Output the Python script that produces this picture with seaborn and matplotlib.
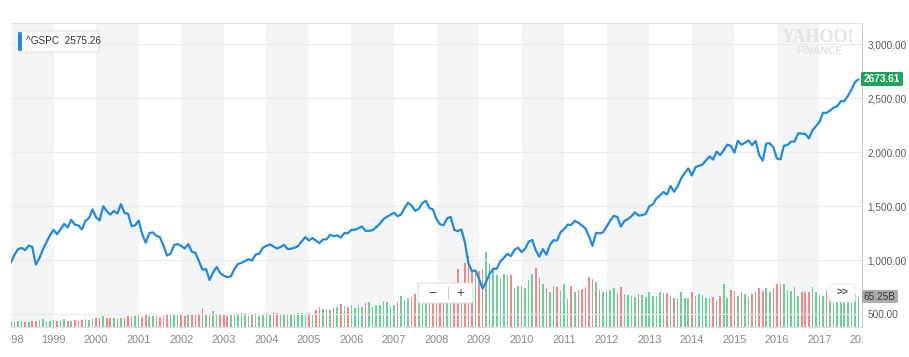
import numpy as np
import pandas as pd
import matplotlib
matplotlib.use("Agg")
import matplotlib.pyplot as plt
from matplotlib.patches import FancyBboxPatch
from matplotlib.lines import Line2D
from matplotlib.transforms import IdentityTransform
import seaborn as sns


sns.set_theme(style="white")
plt.rcParams['font.family'] = ['Liberation Sans', 'DejaVu Sans']

W, H = 909, 357

years = list(range(1998, 2018))
year_ticks = list(range(1998, 2019))
price_ticks = [500, 1000, 1500, 2000, 2500, 3000]

# monthly close, Jan..Dec per row
close_values = [
    980.28, 1049.34, 1101.75, 1111.75, 1090.82, 1133.84, 1120.67, 957.28, 1017.01, 1098.67, 1163.63, 1229.23,
    1279.64, 1238.33, 1286.37, 1335.18, 1301.84, 1372.71, 1328.72, 1320.41, 1282.71, 1362.93, 1388.91, 1469.25,
    1394.46, 1366.42, 1498.58, 1452.43, 1420.60, 1454.60, 1430.83, 1517.68, 1436.51, 1429.40, 1314.95, 1320.28,
    1366.01, 1239.94, 1160.33, 1249.46, 1255.82, 1224.38, 1211.23, 1133.58, 1040.94, 1059.78, 1139.45, 1148.08,
    1130.20, 1106.73, 1147.39, 1076.92, 1067.14, 989.82, 911.62, 916.07, 815.28, 885.76, 936.31, 879.82,
    855.70, 841.15, 848.18, 916.92, 963.59, 974.50, 990.31, 1008.01, 995.97, 1050.71, 1058.20, 1111.92,
    1131.13, 1144.94, 1126.21, 1107.30, 1120.68, 1140.84, 1101.72, 1104.24, 1114.58, 1130.20, 1173.82, 1211.92,
    1181.27, 1203.60, 1180.59, 1156.85, 1191.50, 1191.33, 1234.18, 1220.33, 1228.81, 1207.01, 1249.48, 1248.29,
    1280.08, 1280.66, 1294.83, 1310.61, 1270.09, 1270.20, 1276.66, 1303.82, 1335.85, 1377.94, 1400.63, 1418.30,
    1438.24, 1406.82, 1420.86, 1482.37, 1530.62, 1503.35, 1455.27, 1473.99, 1526.75, 1549.38, 1481.14, 1468.36,
    1378.55, 1330.63, 1322.70, 1385.59, 1400.38, 1280.00, 1267.38, 1282.83, 1166.36, 968.75, 896.24, 903.25,
    825.88, 735.09, 797.87, 872.81, 919.14, 919.32, 987.48, 1020.62, 1057.08, 1036.19, 1095.63, 1115.10,
    1073.87, 1104.49, 1169.43, 1186.69, 1089.41, 1030.71, 1101.60, 1049.33, 1141.20, 1183.26, 1180.55, 1257.64,
    1286.12, 1327.22, 1325.83, 1363.61, 1345.20, 1320.64, 1292.28, 1218.89, 1131.42, 1253.30, 1246.96, 1257.60,
    1312.41, 1365.68, 1408.47, 1397.91, 1310.33, 1362.16, 1379.32, 1406.58, 1440.67, 1412.16, 1416.18, 1426.19,
    1498.11, 1514.68, 1569.19, 1597.57, 1630.74, 1606.28, 1685.73, 1632.97, 1681.55, 1756.54, 1805.81, 1848.36,
    1782.59, 1859.45, 1872.34, 1883.95, 1923.57, 1960.23, 1930.67, 2003.37, 1972.29, 2018.05, 2067.56, 2058.90,
    1994.99, 2104.50, 2067.89, 2085.51, 2107.39, 2063.11, 2103.84, 1972.18, 1920.03, 2079.36, 2080.41, 2043.94,
    1940.24, 1932.23, 2059.74, 2065.30, 2096.95, 2098.86, 2173.60, 2170.95, 2168.27, 2126.15, 2198.81, 2238.83,
    2278.87, 2363.64, 2362.72, 2384.20, 2411.80, 2423.41, 2470.30, 2471.65, 2519.36, 2575.26, 2647.58, 2673.61,
]

# monthly volume, billions of shares
volume_values = [
    11.5, 11, 12, 12, 11, 11.5, 12, 13, 16, 17, 13, 14,
    15, 14, 16, 16.5, 14, 13.5, 15, 14, 15.5, 17, 16, 18,
    19.5, 19, 24.5, 19, 19, 19.5, 18, 19.5, 20.5, 23.5, 21.5, 23.5,
    27.5, 22, 26, 24.5, 24.5, 24.5, 22.5, 23, 25, 28, 27, 26,
    29, 24.5, 26, 27, 27, 29, 41, 27.5, 26, 35, 28, 25,
    29, 24, 28, 28, 29, 30, 30, 24, 28, 30, 24, 27,
    30, 29, 32, 30, 27, 28, 28, 27, 26, 30, 30, 28,
    30, 28, 37, 43, 38, 39, 36, 41, 44, 49, 45, 43,
    47, 41, 48, 43, 53, 54, 43, 48, 48, 57, 55, 44,
    48, 54, 67, 58, 64, 65, 71, 95, 70, 76, 92, 68,
    98, 82, 95, 80, 78, 92, 125, 88, 140, 155, 120, 115,
    121, 126, 163, 140, 124, 113, 107, 116, 113, 113, 84, 88,
    90, 84, 103, 115, 129, 106, 94, 85, 77, 88, 86, 79,
    93, 60, 90, 77, 81, 83, 86, 108, 104, 97, 80, 75,
    79, 80, 85, 73, 87, 72, 69, 68, 66, 72, 69, 66,
    75, 68, 68, 77, 74, 73, 67, 64, 64, 76, 64, 64,
    75, 68, 72, 69, 64, 64, 66, 56, 67, 94, 64, 80,
    78, 67, 75, 71, 65, 72, 77, 84, 79, 85, 75, 84,
    93, 93, 93, 80, 78, 86, 67, 75, 77, 75, 87, 75,
    69, 68, 80, 62, 68, 72, 60, 66, 64, 68, 71, 65.25,
]

legend_label = "^GSPC  2575.26"
last_price_label = "2673.61"
last_volume_label = "65.25B"

LINE_BLUE = '#1e8ae6'
BAND = '#f4f5f6'


def build_frame():
    t = [y + m / 12 for y in years for m in range(12)]
    df = pd.DataFrame({'t': t, 'close': close_values, 'volume': volume_values})
    df['dir'] = np.where(df['close'].diff().fillna(1) >= 0, 'up', 'down')
    return df


def box(fig, x0, y0, x1, y1, fc, ec='none', r=2.0, z=10):
    p = FancyBboxPatch((x0, H - y1), x1 - x0, y1 - y0,
                       boxstyle=f'round,pad=0,rounding_size={r}',
                       fc=fc, ec=ec, lw=0.8, transform=IdentityTransform(), zorder=z)
    fig.add_artist(p)


def ftext(fig, x, y, s, **kw):
    fig.text(x / W, 1 - y / H, s, zorder=11, **kw)


def plot_chart(df):
    fig = plt.figure(figsize=(W / 100, H / 100), dpi=100)
    ax_v = fig.add_axes([11 / W, (H - 327) / H, (862 - 11) / W, (327 - 23) / H])
    ax = ax_v.twinx()

    # alternating year bands
    for y in range(1998, 2018, 2):
        ax_v.axvspan(y, y + 1, color=BAND, lw=0, zorder=0)

    sns.barplot(data=df, x='t', y='volume', hue='dir',
                palette={'up': '#6dcf9a', 'down': '#f48787'},
                native_scale=True, width=0.45, dodge=False, errorbar=None,
                legend=False, linewidth=0, saturation=1, ax=ax_v)
    ax_v.set_ylim(0, 660)
    ax_v.set_yticks([])
    ax_v.set_xlim(1998, 2018)
    ax_v.set_xticks(year_ticks)
    ax_v.set_xticklabels([str(y) for y in year_ticks])
    ax_v.tick_params(axis='x', length=3, width=0.8, color='#cccccc', labelsize=7.9,
                     labelcolor='#8a8a8a', pad=2.5)
    ax_v.set_xlabel('')
    ax_v.set_ylabel('')

    ax_v.text(818 / W, 1 - 37 / H, 'YAHOO!', transform=fig.transFigure, ha='center', va='center',
              fontsize=13, fontweight='bold', family='Liberation Serif', color='#e4e4e4', zorder=1)
    ax_v.text(819 / W, 1 - 51 / H, 'FINANCE', transform=fig.transFigure, ha='center', va='center',
              fontsize=7.5, fontweight='bold', color='#e4e4e4', zorder=1)

    sns.lineplot(data=df, x='t', y='close', color=LINE_BLUE, linewidth=1.6, ax=ax)
    ax.set_xlim(1998, 2018)
    ax.set_ylim(380, 3195)
    ax.set_yticks(price_ticks)
    ax.set_yticklabels([f'{v:,.2f}' for v in price_ticks])
    ax.tick_params(axis='y', length=0, pad=4, labelsize=7.2, labelcolor='#5a5a5a')
    ax.grid(axis='y', color='#ececec', lw=0.8)
    ax.set_xlabel('')
    ax.set_ylabel('')

    for s in ax.spines.values():
        s.set_visible(False)
    ax_v.spines['left'].set_visible(False)
    ax_v.spines['top'].set_color('#e6e6e6')
    ax_v.spines['bottom'].set_color('#e0e0e0')
    ax_v.spines['right'].set_color('#cccccc')
    for s in ['top', 'bottom', 'right']:
        ax_v.spines[s].set_linewidth(0.8)

    # clip tick labels outside the plot range
    box(fig, 0, 329, 10.5, H, 'white', r=0, z=9)
    box(fig, 862.5, 329, W, H, 'white', r=0, z=9)

    # legend chip
    box(fig, 18, 31, 99, 52, 'white', ec='#e4e4e4', r=2)
    box(fig, 18, 32, 22, 51, LINE_BLUE, r=1.5)
    ftext(fig, 26, 41.5, legend_label, fontsize=7.2, color='#333333', va='center', ha='left')

    # last price flag
    box(fig, 861, 72, 903, 86, '#1ea45a', r=1.5)
    ftext(fig, 882, 79, last_price_label, fontsize=7.2, color='white', fontweight='bold',
          va='center', ha='center')

    # last volume flag
    box(fig, 862, 290, 898, 303, '#a9adb2', r=1.5)
    ftext(fig, 880, 296.5, last_volume_label, fontsize=7.2, color='#333333',
          va='center', ha='center')

    # zoom controls
    box(fig, 418, 283, 473, 303, 'white', ec='#e2e2e2', r=2)
    ftext(fig, 432, 293, '\u2212', fontsize=10, color='#555555', va='center', ha='center')
    fig.add_artist(Line2D([447.7 / W, 447.7 / W], [1 - 287 / H, 1 - 299 / H],
                          transform=fig.transFigure, color='#d0d0d0', lw=0.8, zorder=11))
    ftext(fig, 460, 293, '+', fontsize=10, color='#555555', va='center', ha='center')

    box(fig, 830, 284, 855, 302, 'white', ec='#eeeeee', r=2)
    ftext(fig, 842.5, 293, '>>', fontsize=7.5, color='#555555', fontweight='bold',
          va='center', ha='center')

    fig.savefig('out.png', dpi=100)


if __name__ == '__main__':
    df = build_frame()
    plot_chart(df)
